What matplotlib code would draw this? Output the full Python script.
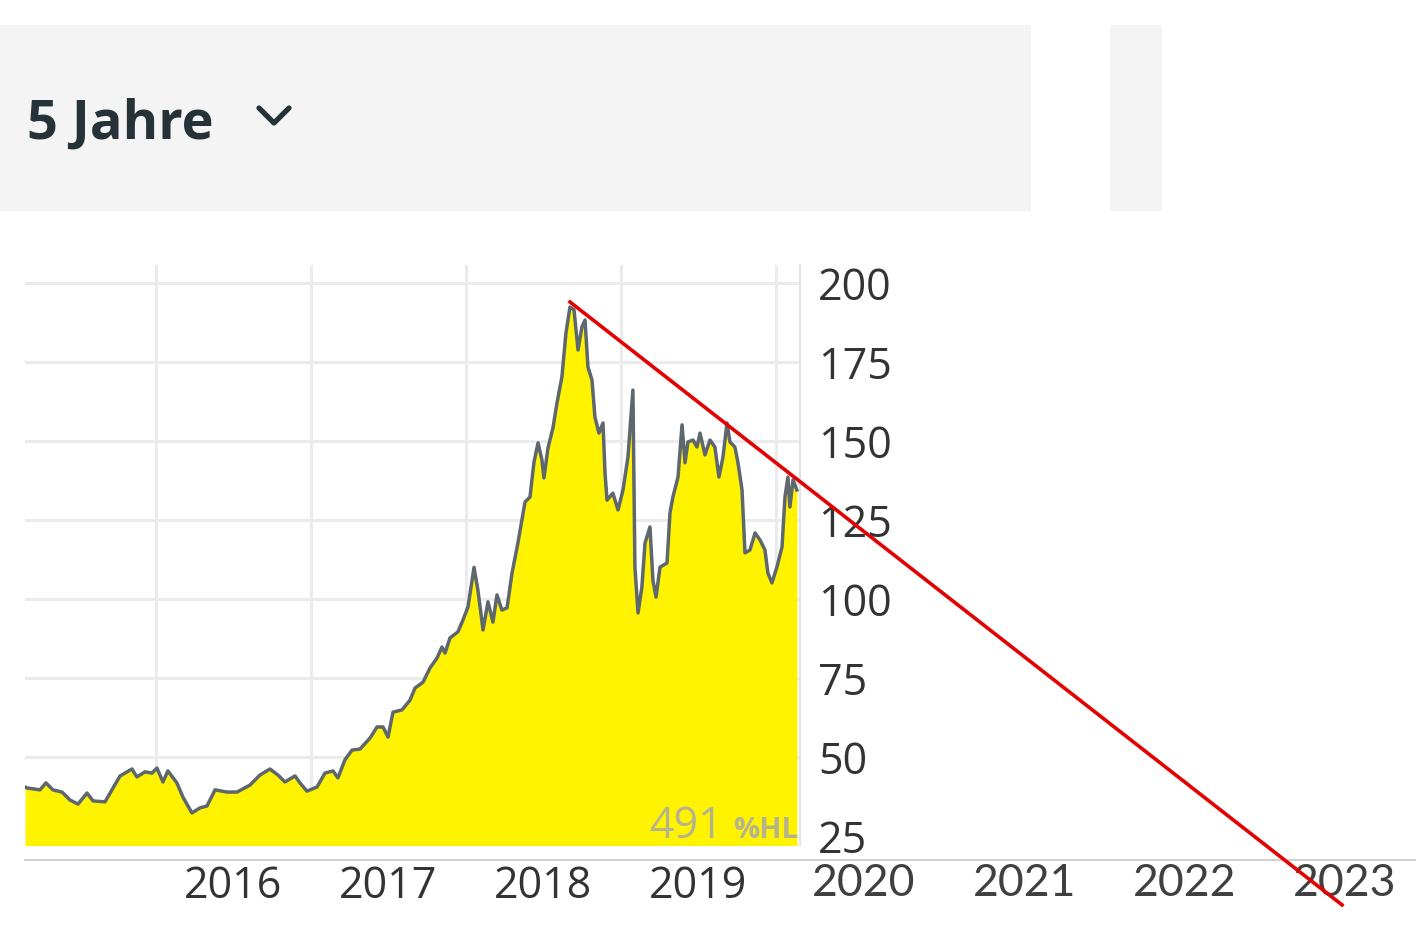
import matplotlib.pyplot as plt
from matplotlib.patches import Rectangle
from matplotlib.lines import Line2D

plt.rcParams['font.family'] = ['Open Sans', 'DejaVu Sans']

# price series (decimal year, price)
years = [2015.155, 2015.168, 2015.252, 2015.290, 2015.335, 2015.394, 2015.445, 2015.497,
         2015.555, 2015.594, 2015.671, 2015.723, 2015.768, 2015.845, 2015.877, 2015.929,
         2015.974, 2016.006, 2016.045, 2016.077, 2016.135, 2016.174, 2016.232, 2016.284,
         2016.329, 2016.381, 2016.458, 2016.523, 2016.606, 2016.671, 2016.735, 2016.787,
         2016.832, 2016.897, 2016.929, 2016.974, 2017.039, 2017.090, 2017.142, 2017.174,
         2017.219, 2017.265, 2017.316, 2017.381, 2017.426, 2017.465, 2017.497, 2017.529,
         2017.587, 2017.639, 2017.671, 2017.723, 2017.768, 2017.813, 2017.845, 2017.865,
         2017.897, 2017.948, 2017.981, 2018.013, 2018.052, 2018.077, 2018.110, 2018.142,
         2018.174, 2018.200, 2018.232, 2018.265, 2018.297, 2018.335, 2018.381, 2018.413,
         2018.439, 2018.465, 2018.490, 2018.503, 2018.529, 2018.561, 2018.587, 2018.619,
         2018.645, 2018.671, 2018.697, 2018.723, 2018.748, 2018.768, 2018.787, 2018.813,
         2018.832, 2018.858, 2018.884, 2018.897, 2018.910, 2018.948, 2018.981, 2019.013,
         2019.045, 2019.077, 2019.090, 2019.110, 2019.135, 2019.155, 2019.187, 2019.206,
         2019.226, 2019.252, 2019.297, 2019.316, 2019.335, 2019.368, 2019.394, 2019.413,
         2019.432, 2019.465, 2019.490, 2019.510, 2019.542, 2019.574, 2019.606, 2019.632,
         2019.658, 2019.684, 2019.703, 2019.735, 2019.755, 2019.781, 2019.800, 2019.832,
         2019.865, 2019.897, 2019.929, 2019.948, 2019.974, 2020.006, 2020.039, 2020.058,
         2020.077, 2020.090, 2020.110, 2020.135]
prices = [40.5, 40.2, 39.6, 41.8, 39.6, 38.9, 36.4, 35.1,
          38.6, 36.1, 35.8, 40.2, 44.0, 46.2, 43.7, 45.3,
          44.9, 46.5, 42.1, 45.6, 41.8, 37.3, 32.3, 33.9,
          34.5, 39.6, 38.9, 38.9, 41.1, 44.3, 46.2, 44.3,
          42.1, 44.0, 41.8, 39.2, 40.5, 44.9, 45.6, 43.4,
          49.1, 52.2, 52.5, 56.0, 59.5, 59.5, 56.3, 64.2,
          64.9, 68.0, 71.8, 73.7, 78.2, 81.3, 84.8, 82.9,
          87.7, 89.6, 93.4, 97.5, 110.0, 102.8, 90.2, 99.1,
          92.7, 101.3, 96.5, 97.2, 108.2, 117.7, 130.7, 132.3,
          143.4, 149.4, 144.0, 138.3, 147.8, 154.1, 162.0, 170.3,
          184.2, 192.4, 191.5, 178.8, 186.1, 188.3, 173.4, 169.3,
          157.6, 152.5, 155.7, 139.9, 131.3, 133.5, 128.2, 134.5,
          144.9, 166.1, 110.1, 95.6, 103.8, 117.7, 122.8, 106.0,
          100.6, 110.1, 111.4, 127.2, 132.3, 138.6, 155.1, 143.1,
          149.7, 150.3, 148.1, 152.5, 145.6, 150.3, 148.1, 138.6,
          144.9, 155.7, 149.7, 148.1, 143.1, 134.5, 114.6, 115.5,
          120.9, 118.7, 115.5, 108.2, 105.1, 110.1, 116.5, 132.3,
          138.6, 129.1, 137.7, 134.5]

# hand drawn trend line (start at the 2018 peak)
trend_x = [2018.671, 2023.652]
trend_y = [194.0, 3.2]

yticks = [25, 50, 75, 100, 125, 150, 175, 200]
year_grid = [2016, 2017, 2018, 2019, 2020]
year_labels = ['2016', '2017', '2018', '2019']
ext_labels = ['2020', '2021', '2022', '2023']
period_label = '5 Jahre'
perf_value = '491'
perf_unit = '%HL'

W, H = 1420, 941
fig = plt.figure(figsize=(W / 100, H / 100), dpi=100)


def box(l, t, r, b):
    # pixel box -> figure fraction [left, bottom, width, height]
    return [l / W, 1 - b / H, (r - l) / W, (b - t) / H]


# header panel
for l, t, r, b in [(0, 25, 1031, 211), (1110, 25, 1162, 211)]:
    x0, y0, w, h = box(l, t, r, b)
    fig.add_artist(Rectangle((x0, y0), w, h, transform=fig.transFigure,
                             color='#f4f4f4', lw=0, zorder=0))
fig.text(27 / W, 1 - 139 / H, period_label, fontsize=39, fontweight='bold',
         color='#253238', ha='left', va='baseline')
fig.add_artist(Line2D([259 / W, 274 / W, 289 / W], [1 - 108 / H, 1 - 123 / H, 1 - 108 / H],
                      transform=fig.transFigure, color='#253238', lw=3.8,
                      solid_capstyle='round', solid_joinstyle='round'))

# main chart
ax = fig.add_axes(box(25, 265, 800, 845))
ax.set_zorder(3)
ax.fill_between(years, prices, 0, color='#fff300', lw=0, zorder=2)
ax.plot(years, prices, color='#5d676d', lw=2.5, zorder=3)
ax.plot(trend_x, trend_y, color='#e30000', lw=2.6, clip_on=False, zorder=6)

ax.set_xlim(2015.155, 2020.155)
ax.set_ylim(22.15, 205.7)
ax.set_xticks(year_grid, labels=[''] * len(year_grid))
ax.set_xticks([y + 0.5 for y in year_grid[:-1]], labels=year_labels, minor=True)
ax.grid(which='major', color='#ebebeb', lw=2.2, zorder=1)
ax.tick_params(axis='x', which='both', length=0, labelsize=31, labelcolor='#333333', pad=14)

ax.yaxis.tick_right()
ax.set_yticks(yticks)
ax.tick_params(axis='y', length=0, pad=13, labelsize=31, labelcolor='#333333')

for s in ['top', 'left', 'bottom']:
    ax.spines[s].set_visible(False)
ax.spines['right'].set_color('#e3e3e3')
ax.spines['right'].set_linewidth(1.5)

ax.text(0.901, 0.012, perf_value, transform=ax.transAxes, ha='right', va='baseline',
        fontsize=31, color='#a8a8a8', alpha=0.85, zorder=4)
ax.text(0.997, 0.012, perf_unit, transform=ax.transAxes, ha='right', va='baseline',
        fontsize=21, fontweight='bold', color='#a8a8a8', alpha=0.85, zorder=4)

# extended time axis below
ext = fig.add_axes(box(25, 859, 1415, 860))
ext.set_zorder(1)
ext.patch.set_visible(False)
ext.set_xlim(2015.26, 2023.94)
ext.set_ylim(0, 1)
ext.set_yticks([])
ext.set_xticks([2020.5, 2021.5, 2022.5, 2023.5], labels=ext_labels)
ext.tick_params(axis='x', length=0, pad=2, labelsize=32, labelcolor='#404040')
for lab in ext.get_xticklabels():
    lab.set_family('Lato')
for s in ['top', 'left', 'right']:
    ext.spines[s].set_visible(False)
ext.spines['bottom'].set_color('#c8c8c8')
ext.spines['bottom'].set_linewidth(1.2)

fig.savefig('out.png', dpi=100)
